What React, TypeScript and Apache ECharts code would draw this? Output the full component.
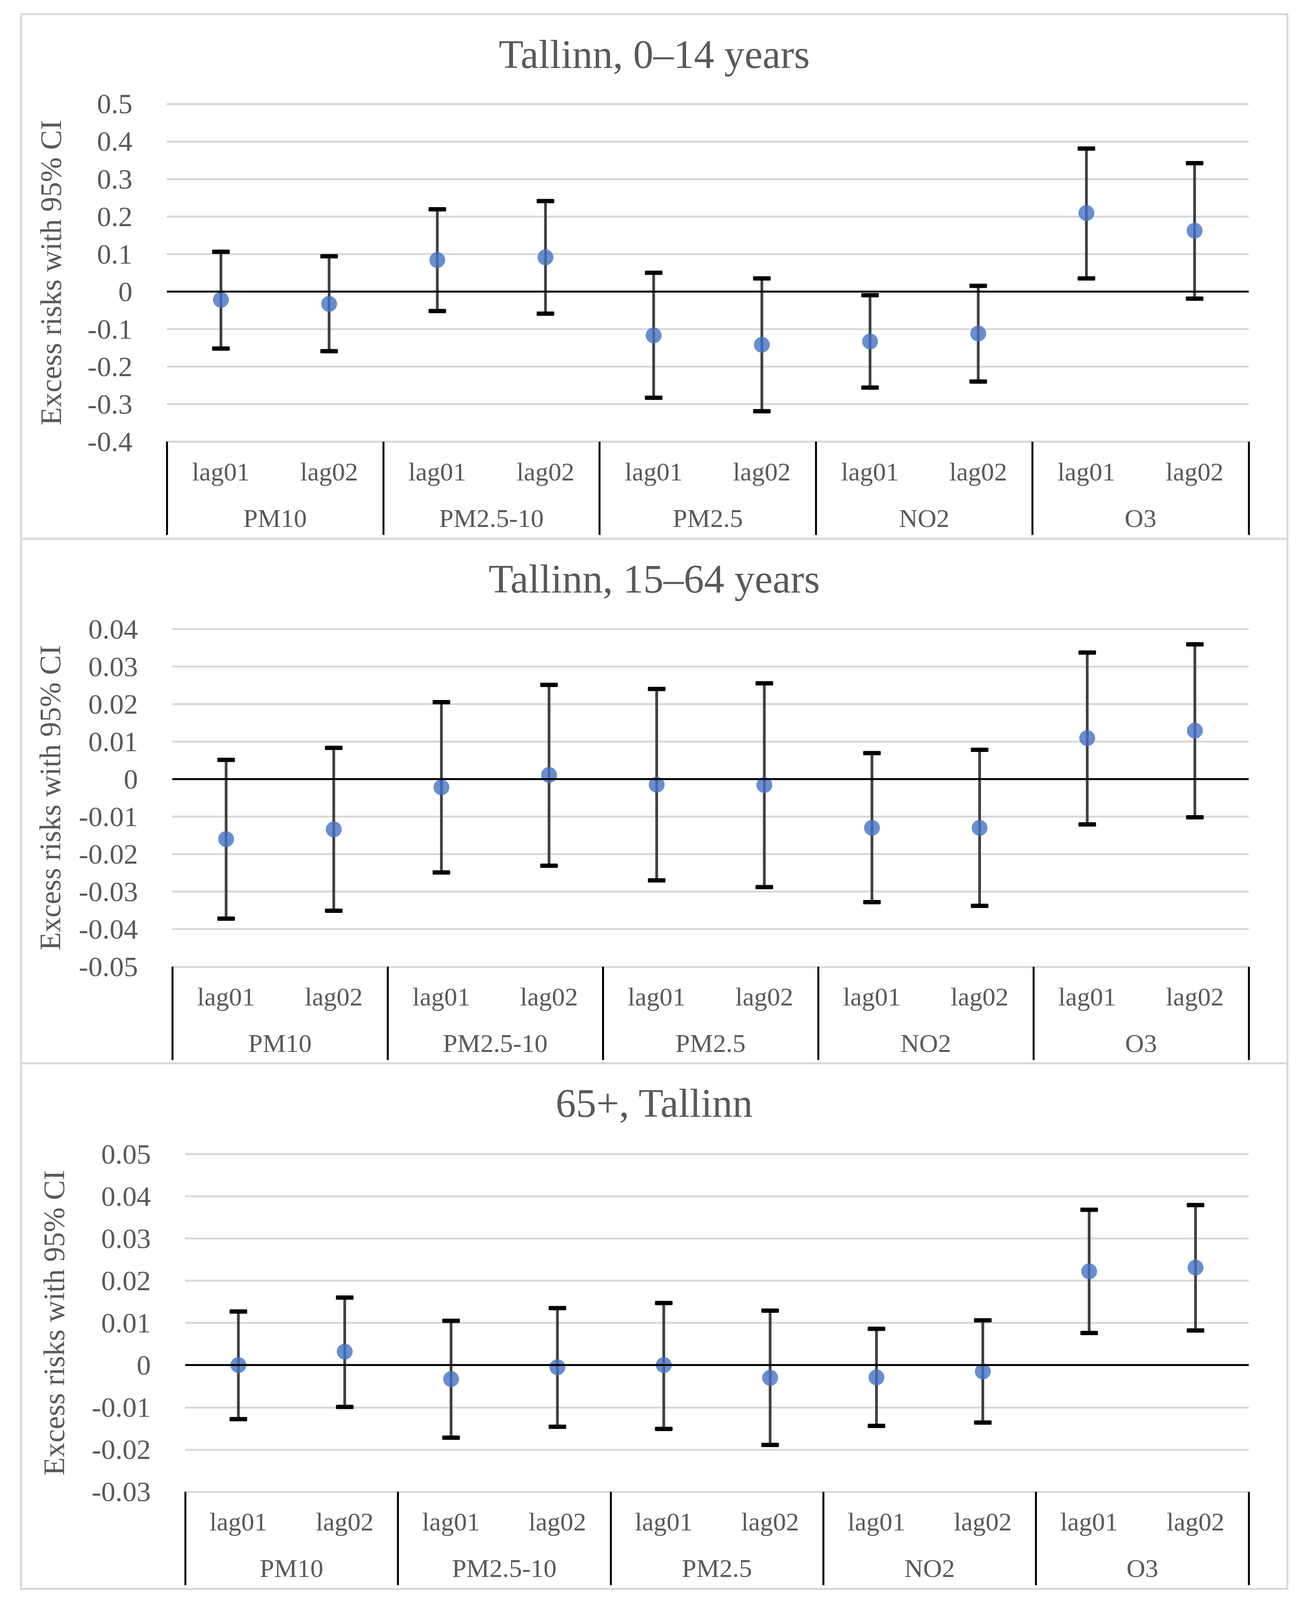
import React, { useEffect, useRef } from "react";
import * as echarts from "echarts";

// ---------- data ----------
const lagLabels = ["lag01", "lag02", "lag01", "lag02", "lag01", "lag02", "lag01", "lag02", "lag01", "lag02"];
const pollutants = ["PM10", "PM2.5-10", "PM2.5", "NO2", "O3"];
const panelTitles = ["Tallinn, 0–14 years", "Tallinn, 15–64 years", "65+, Tallinn"];
const yAxisTitle = "Excess risks with 95% CI";

// Panel 1: Tallinn, 0–14 years
const est1 = [-0.022, -0.033, 0.084, 0.091, -0.117, -0.142, -0.133, -0.112, 0.209, 0.162];
const low1 = [-0.152, -0.159, -0.052, -0.059, -0.283, -0.319, -0.256, -0.240, 0.035, -0.019];
const high1 = [0.106, 0.094, 0.219, 0.241, 0.050, 0.035, -0.010, 0.015, 0.381, 0.342];

// Panel 2: Tallinn, 15–64 years
const est2 = [-0.0160, -0.0134, -0.0022, 0.0011, -0.0015, -0.0016, -0.0130, -0.0130, 0.0109, 0.0129];
const low2 = [-0.0372, -0.0351, -0.0249, -0.0231, -0.0270, -0.0288, -0.0328, -0.0338, -0.0121, -0.0102];
const high2 = [0.0051, 0.0083, 0.0205, 0.0251, 0.0240, 0.0255, 0.0069, 0.0078, 0.0337, 0.0359];

// Panel 3: 65+, Tallinn
const est3 = [0.0000, 0.0032, -0.0033, -0.0005, 0.0000, -0.0030, -0.0029, -0.0015, 0.0222, 0.0231];
const low3 = [-0.0128, -0.0099, -0.0172, -0.0146, -0.0151, -0.0189, -0.0144, -0.0136, 0.0076, 0.0082];
const high3 = [0.0127, 0.0160, 0.0105, 0.0135, 0.0147, 0.0129, 0.0086, 0.0106, 0.0368, 0.0379];

// y-axis scales
const yMins = [-0.4, -0.05, -0.03];
const yMaxs = [0.5, 0.04, 0.05];
const ySteps = [0.1, 0.01, 0.01];

const estimates = [est1, est2, est3];
const lows = [low1, low2, low3];
const highs = [high1, high2, high3];

// ---------- layout / style (reference pixel coordinates) ----------
const W = 3335;
const REF_H = 5485;
const FRAME_LEFT = 54;
const FRAME_RIGHT = 3295;
const PLOT_RIGHT = 3196;
const PLOT_H = 1158;
const panelTops = [49, 1847, 3645];
const panelBottoms = [1847, 3645, 5447];
const plotLefts = [427, 441, 474];
const plotTops = [356, 2156, 3956];
const nameCentersX = [130, 128, 138];

const FONT = "'Palatino Linotype','Book Antiqua',Palatino,'Liberation Serif',serif";
const TEXT = "#595959";
const GRIDLINE = "#d9d9d9";
const BLUE = "#4472C4";

const BASELINE_K = 0.8375; // baseline position inside a line box of height = fontSize

function buildOption(H: number): any {
  const SY = H / REF_H;
  const sy = (v: number) => v * SY;
  const k = Math.sqrt(SY);

  const TITLE_SIZE = 120 * k;
  const CAT_SIZE = 77 * k;
  const TICK_SIZE = 84 * k;
  const NAME_SIZE = 88 * k;
  const MARK = 47 * k;

  const title: any[] = [];
  const grid: any[] = [];
  const xAxis: any[] = [];
  const yAxis: any[] = [];
  const series: any[] = [];
  const graphic: any[] = [];

  for (let i = 0; i < 3; i++) {
    title.push({
      text: panelTitles[i],
      left: (FRAME_LEFT + FRAME_RIGHT) / 2,
      top: sy(panelTops[i] + 184) - BASELINE_K * TITLE_SIZE,
      textAlign: "center",
      padding: 0,
      textStyle: { fontFamily: FONT, fontSize: TITLE_SIZE, lineHeight: TITLE_SIZE, fontWeight: "normal", color: TEXT },
    });
    grid.push({
      left: plotLefts[i],
      top: sy(plotTops[i]),
      width: PLOT_RIGHT - plotLefts[i],
      height: sy(PLOT_H),
      containLabel: false,
      outerBoundsMode: "none",
    });
    xAxis.push({
      type: "category",
      gridIndex: i,
      position: "bottom",
      data: lagLabels,
      boundaryGap: true,
      axisLine: { show: false },
      axisTick: { show: false },
      splitLine: { show: false },
      axisLabel: {
        interval: 0,
        margin: sy(132.4) - BASELINE_K * CAT_SIZE,
        fontSize: CAT_SIZE,
        lineHeight: CAT_SIZE,
        fontFamily: FONT,
        color: TEXT,
      },
    });
    xAxis.push({
      type: "category",
      gridIndex: i,
      position: "bottom",
      data: pollutants,
      boundaryGap: true,
      axisLine: { show: false },
      axisTick: { show: true, interval: 0, length: sy(320), lineStyle: { color: "#000000", width: 5 } },
      splitLine: { show: false },
      axisLabel: {
        interval: 0,
        margin: sy(292.4) - BASELINE_K * CAT_SIZE,
        fontSize: CAT_SIZE,
        lineHeight: CAT_SIZE,
        fontFamily: FONT,
        color: TEXT,
      },
    });
    // baseline of the rotated name sits right of its visual centre
    const nameBaselineX = nameCentersX[i] + 0.331 * NAME_SIZE;
    yAxis.push({
      type: "value",
      gridIndex: i,
      min: yMins[i],
      max: yMaxs[i],
      interval: ySteps[i],
      name: yAxisTitle,
      nameLocation: "middle",
      nameGap: plotLefts[i] - nameBaselineX - 0.1625 * NAME_SIZE,
      nameRotate: 90,
      nameTextStyle: { fontFamily: FONT, fontSize: NAME_SIZE, lineHeight: NAME_SIZE, color: TEXT },
      axisLine: { show: false },
      axisTick: { show: false },
      splitLine: { show: true, lineStyle: { color: GRIDLINE, width: 5 } },
      axisLabel: { margin: 88, fontSize: TICK_SIZE, fontFamily: FONT, color: TEXT },
    });

    const est = estimates[i];
    const lo = lows[i];
    const hi = highs[i];
    series.push({
      type: "custom",
      xAxisIndex: 2 * i,
      yAxisIndex: i,
      z: 2,
      encode: { x: 0, y: [1, 2] },
      data: est.map((_, j) => [j, lo[j], hi[j]]),
      renderItem: (params: any, api: any) => {
        const x = api.value(0);
        const pLo = api.coord([x, api.value(1)]);
        const pHi = api.coord([x, api.value(2)]);
        const capW = 45;
        const capH = 11;
        return {
          type: "group",
          children: [
            {
              type: "line",
              shape: { x1: pLo[0], y1: pLo[1], x2: pHi[0], y2: pHi[1] },
              style: { stroke: "#404040", lineWidth: 7 },
            },
            {
              type: "rect",
              shape: { x: pHi[0] - capW / 2, y: pHi[1] - capH / 2, width: capW, height: capH, r: 2 },
              style: { fill: "#000000" },
            },
            {
              type: "rect",
              shape: { x: pLo[0] - capW / 2, y: pLo[1] - capH / 2, width: capW, height: capH, r: 2 },
              style: { fill: "#000000" },
            },
          ],
        };
      },
      markLine: {
        silent: true,
        symbol: ["none", "none"],
        label: { show: false },
        lineStyle: { color: "#000000", width: 5, type: "solid" },
        data: [{ yAxis: 0 }],
      },
    });
    series.push({
      type: "scatter",
      xAxisIndex: 2 * i,
      yAxisIndex: i,
      z: 3,
      symbol: "circle",
      symbolSize: MARK,
      itemStyle: { color: BLUE },
      data: est.map((v, j) => [j, v]),
    });

    graphic.push({
      type: "rect",
      silent: true,
      z: 0,
      shape: {
        x: FRAME_LEFT,
        y: sy(panelTops[i]),
        width: FRAME_RIGHT - FRAME_LEFT,
        height: sy(panelBottoms[i] - panelTops[i]),
      },
      style: { fill: "none", stroke: GRIDLINE, lineWidth: 5 },
    });
  }

  return {
    animation: false,
    backgroundColor: "#ffffff",
    title,
    grid,
    xAxis,
    yAxis,
    series,
    graphic,
  };
}

function viewportHeight(): number {
  const vh = typeof window !== "undefined" && window.innerHeight ? window.innerHeight : REF_H;
  return Math.min(REF_H, vh);
}

export default function App() {
  const ref = useRef<HTMLDivElement>(null);
  const H = viewportHeight();
  useEffect(() => {
    if (!ref.current) return;
    document.body.style.margin = "0";
    const chart = echarts.init(ref.current, null, { renderer: "svg", width: W, height: H });
    chart.setOption(buildOption(H));
    return () => chart.dispose();
  }, [H]);
  return (
    <>
      <style>{"html,body{margin:0;padding:0;overflow:hidden;background:#ffffff;}"}</style>
      <div ref={ref} style={{ width: W, height: H, background: "#ffffff" }} />
    </>
  );
}
